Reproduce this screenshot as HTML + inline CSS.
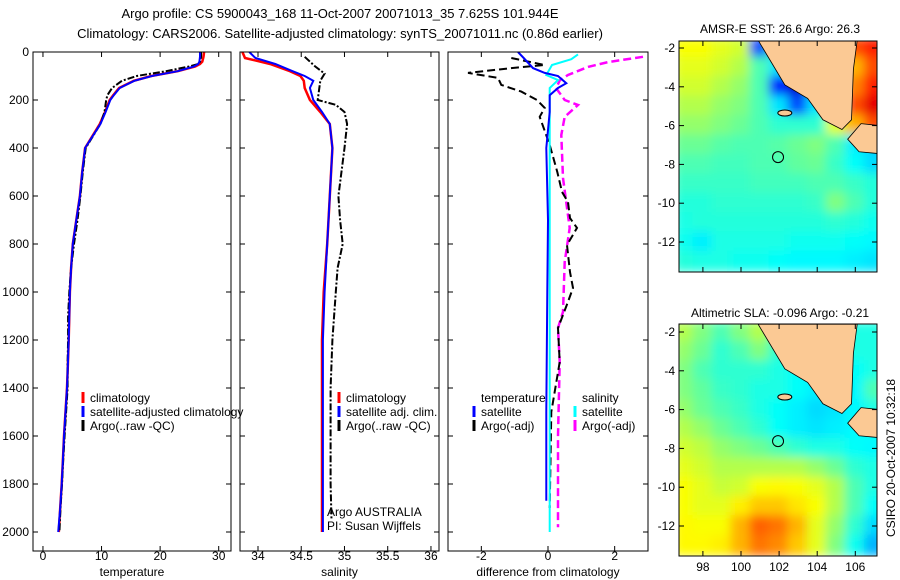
<!DOCTYPE html>
<html><head><meta charset="utf-8"><style>
body{margin:0;background:#fff}
svg{display:block;font-family:"Liberation Sans",sans-serif}
</style></head><body>
<svg id="c" width="900" height="580" viewBox="0 0 900 580" xmlns="http://www.w3.org/2000/svg">
<defs>
<filter id="bl" x="-5%" y="-5%" width="110%" height="110%"><feGaussianBlur stdDeviation="5"/></filter>
<clipPath id="m1c"><rect x="679" y="41" width="198" height="231"/></clipPath>
<clipPath id="m2c"><rect x="679" y="324" width="198" height="232"/></clipPath>
<clipPath id="p1c"><rect x="33" y="52" width="198" height="499"/></clipPath>
<clipPath id="p2c"><rect x="240" y="52" width="199" height="499"/></clipPath>
<clipPath id="p3c"><rect x="448" y="52" width="200" height="499"/></clipPath>
</defs>
<text x="340" y="18" font-size="13" text-anchor="middle">Argo profile: CS 5900043_168 11-Oct-2007 20071013_35 7.625S 101.944E</text>
<text x="340" y="38" font-size="13" text-anchor="middle">Climatology: CARS2006. Satellite-adjusted climatology: synTS_20071011.nc (0.86d earlier)</text>
<text x="780" y="33" font-size="12" text-anchor="middle">AMSR-E SST: 26.6 Argo: 26.3</text>
<text x="780" y="317" font-size="12" text-anchor="middle">Altimetric SLA: -0.096 Argo: -0.21</text>
<text transform="translate(895,458) rotate(-90)" font-size="12" text-anchor="middle">CSIRO 20-Oct-2007 10:32:18</text>
<g id="g"></g>
</svg>
<script>
// ---- profile data ----
const tDepth=[0,20,40,50,60,80,100,120,150,180,200,250,300,400,500,600,700,800,900,1000,1100,1200,1300,1400,1500,1600,1700,1800,1900,2000];
const tClim=[27.5,27.4,27.2,26.8,26,23,18.5,15.5,13,12,11.4,10.6,9.7,7.2,6.7,6.3,5.7,5.1,4.8,4.6,4.5,4.4,4.25,4.1,3.85,3.6,3.4,3.2,2.95,2.7];
const tSat=[26.8,26.8,26.7,26.5,25.8,23,18.6,15.6,13.1,12.1,11.5,10.7,9.8,7.2,6.7,6.3,5.7,5.1,4.8,4.6,4.5,4.4,4.25,4.1,3.85,3.6,3.4,3.2,2.95,2.6];
const tArgo=[27,27,26.8,26.5,25,21,16,13.5,11.8,11,10.8,10.5,9.8,7.3,6.8,6.4,5.9,5.3,4.8,4.5,4.3,4.3,4.2,4.2,3.95,3.7,3.45,3.25,3.0,2.8];
const sDepth=[0,25,50,80,100,120,150,200,250,300,400,600,800,1000,1200,1400,2000];
const sClim=[33.82,33.85,34.14,34.37,34.49,34.53,34.54,34.6,34.72,34.83,34.86,34.83,34.8,34.76,34.74,34.74,34.74];
const sSat=[33.9,33.97,34.2,34.4,34.54,34.64,34.6,34.64,34.74,34.83,34.86,34.83,34.8,34.77,34.75,34.75,34.75];
const saDepth=[20,40,60,90,120,200,220,250,300,400,600,700,800,900,1000,1200,1400,1800,1950];
const sArgo=[34.54,34.6,34.66,34.77,34.72,34.69,34.9,35.0,35.03,35.0,34.93,34.95,34.98,34.92,34.9,34.86,34.84,34.84,34.85];
const dtaDepth=[25,54,67,87,108,137,165,200,233,270,387,500,583,625,692,733,804,917,983,1041,1150,1292,1500,1900];
const dTArgo=[-1.1,-0.1,-1.1,-2.4,-1.5,-1.4,-0.8,-0.33,-0.1,-0.25,0.05,0.28,0.42,0.6,0.66,0.87,0.57,0.66,0.75,0.6,0.3,0.35,0.1,0.05];
const dsaDepth=[20,42,62,96,117,150,200,221,270,346,525,733,875,1083,1150,1292,1600,1980];
const dSArgo=[2.85,1.8,1.2,0.6,0.36,0.24,0.5,0.9,0.5,0.4,0.45,0.65,0.5,0.45,0.3,0.35,0.3,0.3];
const dssDepth=[10,30,54,96,117,150,250,600,1000,1500,2000];
const dSSat=[0.9,0.7,0.12,-0.05,0.3,0.05,0.05,0.05,0.05,0.05,0.05];
const dtsDepth=[0,25,67,87,100,130,150,180,250,400,700,1000,1500,1870];
const dTSat=[-0.9,-0.73,-0.45,-0.1,0.3,0.55,0.3,0.05,0.05,-0.05,0,-0.02,-0.05,-0.05];
const depthTicks=[0,200,400,600,800,1000,1200,1400,1600,1800,2000];
const tTicks=[0,10,20,30];
const sTicks=[34,34.5,35,35.5,36];
const sTickLabels=["34","34.5","35","35.5","36"];
const dTicks=[-2,0,2];
// ---- map data (jet 0..1), rows lat -2..-13, cols lon 97..107 ----
const mapLats=[-2,-3,-4,-5,-6,-7,-8,-9,-10,-11,-12,-13];
const mapLons=[97,98,99,100,101,102,103,104,105,106,107];
const sstGrid=[
[.62,.62,.6,.58,.2,.45,.5,.5,.5,.8,.85],
[.6,.6,.58,.55,.45,.35,.4,.5,.5,.7,.8],
[.58,.58,.55,.52,.45,.15,.08,.3,.5,.75,.85],
[.55,.55,.52,.5,.45,.35,.2,.35,.45,.8,.9],
[.52,.52,.5,.48,.45,.42,.42,.42,.6,.7,.8],
[.48,.48,.46,.45,.45,.46,.48,.5,.45,.36,.33],
[.45,.45,.44,.44,.45,.45,.47,.48,.43,.38,.34],
[.43,.43,.43,.43,.44,.44,.44,.45,.45,.43,.41],
[.41,.41,.42,.42,.42,.42,.42,.43,.5,.45,.41],
[.4,.41,.41,.41,.41,.41,.41,.41,.42,.41,.39],
[.39,.36,.4,.4,.4,.4,.39,.39,.39,.38,.37],
[.41,.4,.4,.39,.39,.38,.37,.37,.37,.36,.35]];
const slaGrid=[
[.55,.5,.45,.5,.55,.45,.4,.4,.4,.4,.4],
[.52,.48,.42,.45,.5,.42,.38,.38,.38,.4,.4],
[.5,.45,.42,.42,.42,.4,.38,.37,.37,.38,.4],
[.5,.47,.43,.42,.4,.4,.38,.36,.36,.37,.45],
[.52,.48,.45,.43,.4,.38,.36,.34,.35,.37,.4],
[.55,.52,.48,.45,.42,.38,.36,.35,.36,.37,.38],
[.58,.56,.52,.5,.48,.45,.42,.4,.4,.38,.37],
[.6,.58,.55,.55,.55,.55,.55,.52,.48,.42,.4],
[.62,.6,.57,.58,.62,.63,.62,.6,.55,.45,.4],
[.62,.6,.6,.64,.68,.68,.65,.62,.55,.45,.38],
[.63,.62,.62,.7,.78,.76,.7,.6,.52,.42,.34],
[.63,.63,.64,.7,.76,.74,.68,.6,.5,.39,.3]];
const sumatraLon=[100.9,102.3,103.5,104.3,105.3,105.8,105.9,106.1];
const sumatraLat=[-1.6,-3.9,-4.6,-5.7,-6.2,-5.7,-3.1,-1.6];
const javaLon=[105.6,106.2,107.3,107.3,106.3];
const javaLat=[-6.7,-7.35,-7.45,-6.0,-5.9];
const floatLon=101.944, floatLat=-7.625;
const mapLatTicks=[-2,-4,-6,-8,-10,-12];
const mapLonTicks=[98,100,102,104,106];

const NS='http://www.w3.org/2000/svg';
const G=document.getElementById('g');
function mk(tag,attrs,parent){const e=document.createElementNS(NS,tag);for(const k in attrs)e.setAttribute(k,attrs[k]);(parent||G).appendChild(e);return e;}
const yD=d=>52+d*0.24;

function panel(x0,w,xmin,xmax,clip,name){
  const sx=v=>x0+(v-xmin)/(xmax-xmin)*w;
  const g=mk('g',{});
  
  
  return {sx,g,x0,w};
}
function frame(p,ticks,labels,xlabel,showY){
  const r=mk('rect',{x:p.x0,y:52,width:p.w,height:499,fill:'none',stroke:'#000','stroke-width':1},p.g);
  
  
  ticks.forEach((t,i)=>{
    const x=p.sx(t);
    mk('line',{x1:x,x2:x,y1:551,y2:546,stroke:'#000'},p.g);
    mk('line',{x1:x,x2:x,y1:52,y2:57,stroke:'#000'},p.g);
    const tx=mk('text',{x:x,y:560,'font-size':12,'text-anchor':'middle'},p.g);
    tx.textContent=labels[i];
    
    
  });
  depthTicks.forEach(d=>{
    const y=yD(d);
    mk('line',{x1:p.x0,x2:p.x0+5,y1:y,y2:y,stroke:'#000'},p.g);
    mk('line',{x1:p.x0+p.w,x2:p.x0+p.w-5,y1:y,y2:y,stroke:'#000'},p.g);
    if(showY){const t=mk('text',{x:p.x0-4,y:y+4,'font-size':12,'text-anchor':'end'},p.g);t.textContent=d;
      
      }
  });
  const xl=mk('text',{x:p.x0+p.w/2,y:576,'font-size':12,'text-anchor':'middle'},p.g);
  xl.textContent=xlabel;
  
  
}
function line(p,depths,vals,color,dash,clip,name,wid){
  const pts=depths.map((d,i)=>p.sx(vals[i]).toFixed(1)+','+yD(d).toFixed(1)).join(' ');
  const a={points:pts,fill:'none',stroke:color,'stroke-width':wid||2,'clip-path':'url(#'+clip+')'};
  if(dash)a['stroke-dasharray']=dash;
  const e=mk('polyline',a,p.g);
  
  
}
function legend(p,x,y,items){
  items.forEach((it,i)=>{
    const yy=y+i*14;
    mk('line',{x1:x,x2:x,y1:yy-10,y2:yy+1,stroke:it[1],'stroke-width':3},p.g);
    const t=mk('text',{x:x+7,y:yy,'font-size':12},p.g);t.textContent=it[0];
    
    
  });
}
// Panel 1
const p1=panel(33,198,-1.7,32.1,'p1c','temperature-panel');
line(p1,tDepth,tClim,'#f00',null,'p1c','temp-climatology-line',2.5);
line(p1,tDepth,tArgo,'#000','7,2,2,2','p1c','temp-argo-line',2);
line(p1,tDepth,tSat,'#00f',null,'p1c','temp-satellite-line',2);
frame(p1,tTicks,tTicks.map(String),'temperature',true);
legend(p1,83,402,[['climatology','#f00'],['satellite-adjusted climatology','#00f'],['Argo(..raw -QC)','#000']]);
// Panel 2
const p2=panel(240,199,33.792,36.093,'p2c','salinity-panel');
line(p2,sDepth,sClim,'#f00',null,'p2c','sal-climatology-line',2.5);
line(p2,saDepth,sArgo,'#000','7,2,2,2','p2c','sal-argo-line',2);
line(p2,sDepth,sSat,'#00f',null,'p2c','sal-satellite-line',2);
frame(p2,sTicks,sTickLabels,'salinity',false);
legend(p2,339,402,[['climatology','#f00'],['satellite adj. clim.','#00f'],['Argo(..raw -QC)','#000']]);
[['Argo AUSTRALIA',516],['PI: Susan Wijffels',530]].forEach(a=>{const t=mk('text',{x:327,y:a[1],'font-size':12},p2.g);t.textContent=a[0];
  
  });
// Panel 3
const p3=panel(448,200,-3,3,'p3c','difference-panel');
line(p3,dsaDepth,dSArgo,'#f0f','8,4','p3c','diff-sal-argo-line',2.5);
line(p3,dtaDepth,dTArgo,'#000','8,4','p3c','diff-temp-argo-line',2);
line(p3,dssDepth,dSSat,'#0ff',null,'p3c','diff-sal-satellite-line',2);
line(p3,dtsDepth,dTSat,'#00f',null,'p3c','diff-temp-satellite-line',2);
frame(p3,dTicks,dTicks.map(String),'difference from climatology',false);
{const t=mk('text',{x:481,y:402,'font-size':12},p3.g);t.textContent='temperature';}
{const t=mk('text',{x:582,y:402,'font-size':12},p3.g);t.textContent='salinity';}
legend(p3,474,416,[['satellite','#00f'],['Argo(-adj)','#000']]);
legend(p3,575,416,[['satellite','#0ff'],['Argo(-adj)','#f0f']]);

// ---- maps ----
function jet(v){v=Math.max(0,Math.min(1,v));
  const r=Math.max(0,Math.min(1,Math.min(4*v-1.5,-4*v+4.5)));
  const g=Math.max(0,Math.min(1,Math.min(4*v-0.5,-4*v+3.5)));
  const b=Math.max(0,Math.min(1,Math.min(4*v+0.5,-4*v+2.5)));
  return 'rgb('+Math.round(r*255)+','+Math.round(g*255)+','+Math.round(b*255)+')';}
function drawMap(grid,y0,top,h,clip,name,showX){
  const sx=lon=>741+(lon-100)*19.05;
  const sy=lat=>y0+(-2-lat)*19.4;
  const g=mk('g',{});
  
  
  const cg=mk('g',{'clip-path':'url(#'+clip+')'},g);
  const hg=mk('g',{filter:'url(#bl)'},cg);
  mapLats.forEach((lat,i)=>mapLons.forEach((lon,j)=>{
    const c=mk('rect',{x:sx(lon-0.5)-1,y:sy(lat+0.5)-1,width:19.05+2,height:19.4+2,fill:jet(grid[i][j])},hg);
    
    
  }));
  const poly=(lons,lats,nm)=>{const e=mk('polygon',{points:lons.map((l,i)=>sx(l)+','+sy(lats[i])).join(' '),fill:'#fbc994',stroke:'#000','stroke-width':0.8},cg);
    };
  poly(sumatraLon,sumatraLat,'sumatra-land');
  poly(javaLon,javaLat,'java-land');
  const isl=mk('ellipse',{cx:sx(102.3),cy:sy(-5.35),rx:7,ry:3,fill:'#fbc994',stroke:'#000'},cg);
  
  const fl=mk('circle',{cx:sx(floatLon),cy:sy(floatLat),r:5.5,fill:'none',stroke:'#000'},g);
  
  const fr=mk('rect',{x:679,y:top,width:198,height:h,fill:'none',stroke:'#000'},g);
  
  mapLatTicks.forEach(lat=>{const y=sy(lat);
    mk('line',{x1:679,x2:684,y1:y,y2:y,stroke:'#000'},g);mk('line',{x1:877,x2:872,y1:y,y2:y,stroke:'#000'},g);
    const t=mk('text',{x:675,y:y+4,'font-size':12,'text-anchor':'end'},g);t.textContent=lat;
    });
  mapLonTicks.forEach(lon=>{const x=sx(lon);
    mk('line',{x1:x,x2:x,y1:top+h,y2:top+h-5,stroke:'#000'},g);mk('line',{x1:x,x2:x,y1:top,y2:top+5,stroke:'#000'},g);
    if(showX){const t=mk('text',{x:x,y:top+h+15,'font-size':12,'text-anchor':'middle'},g);t.textContent=lon;
      }});
}
drawMap(sstGrid,48,41,231,'m1c','sst-map',false);
drawMap(slaGrid,332,324,232,'m2c','sla-map',true);
</script>
</body></html>
